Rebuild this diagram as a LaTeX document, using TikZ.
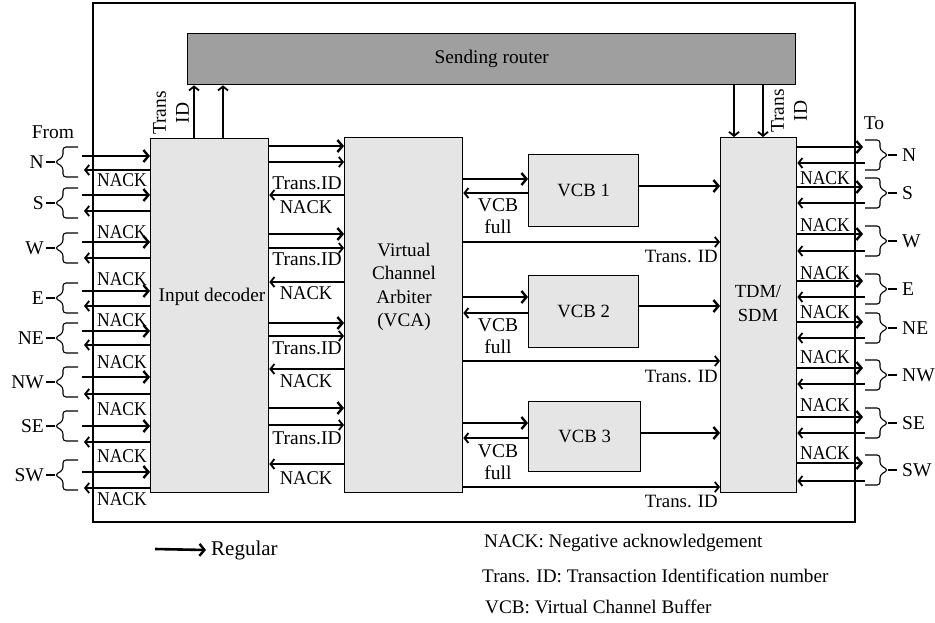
\documentclass[tikz,border=0pt]{standalone}
\usepackage{fontspec}
\setmainfont{Liberation Serif}
\usetikzlibrary{arrows.meta,calc}
\begin{document}
\begin{tikzpicture}[x=1pt,y=-1pt,
  box/.style={draw,line width=1.3pt,fill=gray!20,inner sep=0pt,font=\fontsize{18.7}{20}\selectfont},
  thk/.style={line width=2.6pt,-{Straight Barb[length=5pt,width=12pt,line width=2.4pt]}},
  thn/.style={line width=1.3pt,-{Straight Barb[length=4pt,width=10pt,line width=1.8pt]}},
  lbl/.style={font=\fontsize{19.3}{22}\selectfont,inner sep=0pt},
  big/.style={font=\fontsize{19.5}{22}\selectfont,inner sep=0pt},
  nk/.style={font=\fontsize{19.5}{22}\selectfont,inner sep=0pt},
  lgd/.style={font=\fontsize{19.2}{22}\selectfont,inner sep=0pt,anchor=west},
  lbrace/.pic={\draw[line width=1.1pt,rounded corners=3pt] (15,-15) -- (0,-15) -- (0,-5) -- (-8,0) -- (0,5) -- (0,15) -- (15,15); \draw[line width=1.1pt] (-8,0) -- (-17,0);}
]
\useasboundingbox (0,0) rectangle (935,622);
% outer frame
\draw[line width=1.3pt] (93,3) rectangle (855,522);
% boxes
\node[box,fill=gray!75,minimum width=608pt,minimum height=51pt,anchor=north west,font=\fontsize{19.3}{22}\selectfont] (router) at (187,33) {Sending router};
\node[box,minimum width=118pt,minimum height=354pt,anchor=north west] (dec) at (150,138) {};
\node[box,minimum width=118pt,minimum height=355pt,anchor=north west] (vca) at (344,137) {};
\node[box,minimum width=76pt,minimum height=355pt,anchor=north west] (tdm) at (720,137) {};
\node[box,minimum width=110pt,minimum height=72pt,anchor=north west] (vcb1) at (528,154) {VCB 1};
\node[box,minimum width=110pt,minimum height=72pt,anchor=north west] (vcb2) at (528,275) {VCB 2};
\node[box,minimum width=112pt,minimum height=70pt,anchor=north west] (vcb3) at (528,401) {VCB 3};
\node[lbl] (declbl) at (212,297) {Input decoder};
\node[lbl,align=center,font=\fontsize{19.2}{23.5}\selectfont] (vcalbl) at (404,287) {Virtual\\Channel\\Arbiter\\(VCA)};
\node[lbl,align=center,font=\fontsize{18.5}{24}\selectfont] (tdmlbl) at (758,303) {TDM/\\SDM};
% top connections
\draw[thn] (dec.north -| 194,0) -- (router.south -| 194,0);
\draw[thn] (dec.north -| 223,0) -- (router.south -| 223,0);
\node[big,rotate=90,align=center,font=\fontsize{19.5}{23}\selectfont] (tid1) at (171,113) {Trans\\ID};
\draw[thn] (router.south -| 734,0) -- (tdm.north -| 734,0);
\draw[thn] (router.south -| 763,0) -- (tdm.north -| 763,0);
\node[big,rotate=90,align=center,font=\fontsize{19.5}{23}\selectfont] (tid2) at (789,111) {Trans\\ID};
% left inputs
\node[big] (from) at (53,132) {From};
\foreach \n/\a/\b/\c in {N/156/170/162,S/195/211/203,W/242/258/248,E/291/306/298,NE/331/345/338,NW/377/394/382,SE/426/442/426,SW/472/488/475}{
  \coordinate (li\n) at (82,\a);
  \coordinate (lo\n) at (84,\b);
  \draw[thk] (li\n) -- (dec.west |- li\n);
  \draw[thn] (dec.west |- lo\n) -- (lo\n);
  \pic at (63,\c) {lbrace};
  \node[big,anchor=east] (ll\n) at (44,\c) {\n};
}
\foreach \y in {180,232,279,320,362,409,456,499}{
  \node[nk] at (122,\y) {\scalebox{0.9}[1]{NACK}};
}
% right outputs
\node[big] (to) at (874,123) {To};
\foreach \n/\a/\b/\c in {N/147/163/155,S/187/203/193,W/234/251/241,E/281/297/289,NE/322/338/328,NW/368/384/375,SE/417/433/423,SW/463/481/470}{
  \coordinate (ro\n) at (863,\a);
  \coordinate (ri\n) at (865,\b);
  \draw[thk] (tdm.east |- ro\n) -- (ro\n);
  \draw[thn] (ri\n) -- (tdm.east |- ri\n);
  \pic[xscale=-1] at (880,\c) {lbrace};
  \node[big,anchor=west] (rl\n) at (902,\c) {\n};
}
\foreach \y in {178,225,273,312,357,405,453}{
  \node[nk] at (825,\y) {\scalebox{0.9}[1]{NACK}};
}
% decoder <-> VCA
\foreach \a/\b/\c/\t/\k in {146/162/195/183/207,234/248/282/259/293,323/336/369/348/381,408/425/464/438/478}{
  \draw[thk] (dec.east |- 0,\a) -- (vca.west |- 0,\a);
  \draw[thn] (dec.east |- 0,\b) -- (vca.west |- 0,\b);
  \draw[thn] (vca.west |- 0,\c) -- (dec.east |- 0,\c);
  \node[big] at (307,\t) {Trans.ID};
  \node[nk] at (306,\k) {\scalebox{0.95}[1]{NACK}};
}
% VCA <-> VCB -> TDM
\foreach \i/\a/\b/\f/\o/\t/\l in {1/179/193/216/186/242/256,2/297/313/336/306/361/376,3/423/438/462/433/487/501}{
  \draw[thk] (vca.east |- 0,\a) -- (vcb\i.west |- 0,\a);
  \draw[thn] (vcb\i.west |- 0,\b) -- (vca.east |- 0,\b);
  \node[big,align=center] at (498,\f) {VCB\\full};
  \draw[thk] (vcb\i.east |- 0,\o) -- (tdm.west |- 0,\o);
  \draw[thn] (vca.east |- 0,\t) -- (tdm.west |- 0,\t);
  \node[lbl,anchor=east,font=\fontsize{18.8}{22}\selectfont] at (718,\l) {Trans. ID};
}
% legend
\coordinate (lg) at (155,549);
\node[lgd,font=\fontsize{21}{22}\selectfont] (reg) at (211,550) {Regular};
\draw[thk] (lg) -- ([xshift=-5pt]reg.west);
\node[lgd] (l1) at (484,543) {NACK: Negative acknowledgement};
\node[lgd] (l2) at (482,576) {Trans. ID: Transaction Identification number};
\node[lgd] (l3) at (485,607) {VCB: Virtual Channel Buffer};
\end{tikzpicture}
\end{document}
